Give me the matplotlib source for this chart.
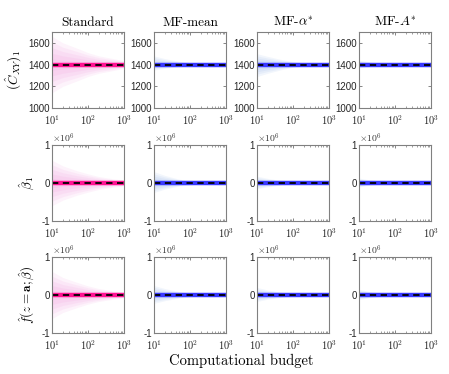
import numpy as np
import matplotlib
matplotlib.use("Agg")
import matplotlib.pyplot as plt
from matplotlib.ticker import FixedLocator, FuncFormatter, LogLocator, NullFormatter

plt.rcParams['mathtext.fontset'] = 'cm'
plt.rcParams['font.family'] = ['Liberation Sans', 'DejaVu Sans']
plt.rcParams['axes.unicode_minus'] = False

methods = ["Standard", "MF-mean", "MF-α*", "MF-A*"]
titles = ["Standard", "MF-mean", r"MF-$\alpha^{*}$", r"MF-$A^{*}$"]
row_labels = [r"$(\hat{C}_{XY})_1$", r"$\hat{\beta}_1$", r"$\hat{f}(z=\mathbf{a};\hat{\beta})$"]

budgets = [10, 20, 50, 100, 200, 500, 1000]
true_values = [1400, 0, 0]
row_ylim = [(1000, 1700), (-1e6, 1e6), (-1e6, 1e6)]
row_yticks = [[1000, 1200, 1400, 1600], [-1e6, 0, 1e6], [-1e6, 0, 1e6]]
xtick_values = [10, 100, 1000]
xtick_labels = [r"$\mathsf{10^{1}}$", r"$\mathsf{10^{2}}$", r"$\mathsf{10^{3}}$"]

# envelope half-widths (upper, lower) of estimator spread
spread_row1 = {
    "Standard": ([260, 200, 150, 110, 80, 55, 35], [260, 200, 150, 110, 80, 55, 35]),
    "MF-mean": ([80, 55, 30, 18, 10, 6, 4], [50, 35, 20, 12, 8, 5, 3]),
    "MF-α*": ([100, 75, 45, 28, 16, 9, 6], [110, 80, 45, 25, 14, 8, 5]),
    "MF-A*": ([40, 25, 10, 5, 3, 2, 2], [30, 18, 8, 4, 3, 2, 2]),
}
spread_row2 = {
    "Standard": ([0.60e6, 0.45e6, 0.32e6, 0.24e6, 0.17e6, 0.11e6, 0.08e6], [0.60e6, 0.45e6, 0.32e6, 0.24e6, 0.17e6, 0.11e6, 0.08e6]),
    "MF-mean": ([0.30e6, 0.20e6, 0.10e6, 0.06e6, 0.03e6, 0.02e6, 0.01e6], [0.25e6, 0.16e6, 0.08e6, 0.05e6, 0.03e6, 0.02e6, 0.01e6]),
    "MF-α*": ([0.18e6, 0.12e6, 0.06e6, 0.035e6, 0.02e6, 0.012e6, 0.008e6], [0.15e6, 0.10e6, 0.05e6, 0.03e6, 0.02e6, 0.01e6, 0.006e6]),
    "MF-A*": ([0.13e6, 0.08e6, 0.04e6, 0.02e6, 0.012e6, 0.008e6, 0.005e6], [0.10e6, 0.06e6, 0.03e6, 0.016e6, 0.01e6, 0.006e6, 0.004e6]),
}
spread_row3 = {
    "Standard": ([0.62e6, 0.46e6, 0.33e6, 0.24e6, 0.17e6, 0.11e6, 0.08e6], [0.62e6, 0.46e6, 0.33e6, 0.24e6, 0.17e6, 0.11e6, 0.08e6]),
    "MF-mean": ([0.25e6, 0.17e6, 0.09e6, 0.05e6, 0.03e6, 0.02e6, 0.01e6], [0.22e6, 0.15e6, 0.08e6, 0.05e6, 0.03e6, 0.02e6, 0.01e6]),
    "MF-α*": ([0.20e6, 0.13e6, 0.07e6, 0.04e6, 0.02e6, 0.012e6, 0.008e6], [0.17e6, 0.11e6, 0.06e6, 0.035e6, 0.02e6, 0.01e6, 0.006e6]),
    "MF-A*": ([0.15e6, 0.09e6, 0.04e6, 0.02e6, 0.012e6, 0.008e6, 0.005e6], [0.12e6, 0.07e6, 0.03e6, 0.016e6, 0.01e6, 0.006e6, 0.004e6]),
}
spreads = [spread_row1, spread_row2, spread_row3]

fan_levels = [1.0, 0.8, 0.6, 0.4, 0.2]

line_colors = {"Standard": "#ff1493", "MF-mean": "#3a3aff", "MF-α*": "#3a3aff", "MF-A*": "#3a3aff"}
fan_colors = {"Standard": "#ee66cc", "MF-mean": "#5f8fe0", "MF-α*": "#5f8fe0", "MF-A*": "#5f8fe0"}

W, H = 449, 374
fig = plt.figure(figsize=(W / 100, H / 100), dpi=100)

col_left = [52, 154, 257, 359]
col_w = 72
row_top = [32, 145, 257]
row_h = 76

gray = "#808080"
for r in range(3):
    for c, m in enumerate(methods):
        ax = fig.add_axes([col_left[c] / W, 1 - (row_top[r] + row_h) / H, col_w / W, row_h / H])
        ax.set_xscale('log')
        x = np.array(budgets, dtype=float)
        up, lo = spreads[r][m]
        up = np.array(up); lo = np.array(lo)
        tv = true_values[r]
        for f in fan_levels:
            ax.fill_between(x, tv - f * lo, tv + f * up, color=fan_colors[m], alpha=0.08, lw=0)
        ax.plot(x, np.full_like(x, tv), color=line_colors[m], lw=3.2, solid_capstyle='butt')
        ax.plot(x, np.full_like(x, tv), color='black', lw=1.3, ls=(0, (3.5, 2.5)))
        ax.set_xlim(10, 1000)
        ax.set_ylim(*row_ylim[r])
        ax.yaxis.set_major_locator(FixedLocator(row_yticks[r]))
        if r == 0:
            ax.yaxis.set_major_formatter(FuncFormatter(lambda v, p: f"{v:.0f}"))
        else:
            ax.yaxis.set_major_formatter(FuncFormatter(lambda v, p: f"{v / 1e6:.0f}"))
            ax.text(0.0, 1.0, r"$\times\mathsf{10^{6}}$", transform=ax.transAxes, fontsize=7,
                    color="#333333", ha='left', va='bottom')
        ax.set_xticks(xtick_values)
        ax.set_xticklabels(xtick_labels)
        ax.xaxis.set_minor_locator(LogLocator(base=10, subs=np.arange(2, 10)))
        ax.xaxis.set_minor_formatter(NullFormatter())
        ax.tick_params(which='both', direction='in', color='#555555', top=True, right=True)
        ax.tick_params(axis='x', labelsize=7.5, labelcolor='#262626', pad=4)
        ax.tick_params(axis='y', labelsize=7, labelcolor='#262626', pad=1.5)
        ax.tick_params(which='major', length=2.5, width=0.5)
        ax.tick_params(which='minor', length=1.5, width=0.4)
        ax.tick_params(axis='y', which='minor', left=False, right=False)
        for s in ax.spines.values():
            s.set_color(gray)
            s.set_linewidth(0.8)
        if r == 0:
            ax.set_title(titles[c], fontfamily='cmr10', fontsize=9.5, pad=4)
        if c == 0:
            ax.set_ylabel(row_labels[r], fontsize=9.5, labelpad=3)

fig.text((52 + 431) / 2 / W, 1 - 361 / H, "Computational budget", fontfamily='cmr10',
         fontsize=10.5, ha='center', va='center')

fig.savefig("out.png", dpi=100)
